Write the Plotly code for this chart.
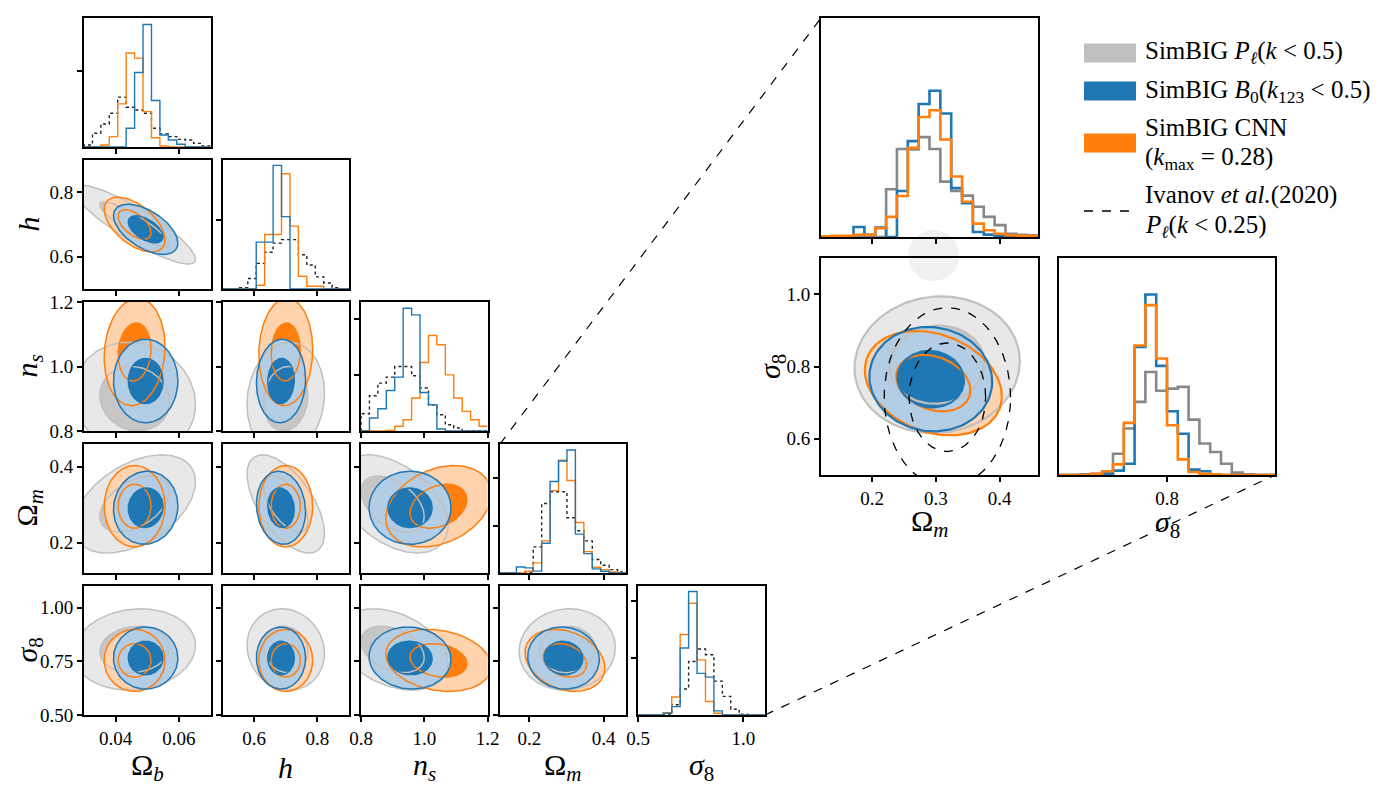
import numpy as np
import plotly.graph_objects as go

# page body has an 8px margin; figure sized to fit the 1395x794 window
PAGE_W, PAGE_H, BODY = 1395, 794, 8
W, H = PAGE_W - 2 * BODY, PAGE_H - 2 * BODY
FONT = "Liberation Serif"


def XP(px):
    return (px - BODY) / W


def YP(py):
    return 1 - (py - BODY) / H


# ---------------- data ----------------
param_labels = ["Ω<sub><i>b</i></sub>", "<i>h</i>", "<i>n<sub>s</sub></i>", "Ω<sub><i>m</i></sub>", "<i>σ</i><sub>8</sub>"]
param_ranges = [[0.03, 0.07], [0.5, 0.9], [0.8, 1.2], [0.12, 0.46], [0.5, 1.1]]
x_tickvals = [[0.04, 0.06], [0.6, 0.8], [0.8, 1.0, 1.2], [0.2, 0.4], [0.5, 1.0]]
x_ticktext = [["0.04", "0.06"], ["0.6", "0.8"], ["0.8", "1.0", "1.2"], ["0.2", "0.4"], ["0.5", "1.0"]]
y_tickvals = [[], [0.6, 0.8], [0.8, 1.0, 1.2], [0.2, 0.4], [0.5, 0.75, 1.0]]
y_ticktext = [[], ["0.6", "0.8"], ["0.8", "1.0", "1.2"], ["0.2", "0.4"], ["0.50", "0.75", "1.00"]]

# 1D posteriors (density), 15 bins across each parameter range
hist_density_top = [84.6, 9.36, 11.51, 13.6, 11.34]
hist_density_ticks = [[50], [5], [5, 10], [5, 10], [5, 10]]
hist_b0 = [
    [0, 0, 0, 0, 0, 12.3, 48.9, 80.3, 30.5, 7.9, 4.6, 1.8, 0, 0, 0],
    [0, 0, 0, 0, 3.4, 3.4, 8.97, 5.25, 0, 0, 0, 0, 0, 0, 0],
    [0, 1.16, 1.99, 3.62, 4.81, 10.95, 10.36, 3.44, 2.34, 0.18, 0, 0, 0, 0, 0],
    [0, 0, 0.64, 0.54, 0.2, 3.14, 9.64, 11.8, 12.96, 4.1, 2.04, 0.43, 0.18, 0, 0],
    [0, 0, 0, 0.15, 0.74, 5.89, 10.86, 3.66, 3.33, 0.36, 0, 0, 0, 0, 0],
]
hist_cnn = [
    [0, 0, 1.3, 6.8, 28.3, 61.6, 58.3, 23.2, 6.1, 0.7, 0, 0, 0, 0, 0],
    [0, 0, 0, 0, 0.27, 3.95, 3.95, 8.36, 4.56, 0.93, 0.2, 0.2, 0, 0, 0],
    [0, 0, 0, 0.05, 0.42, 1.0, 2.94, 6.11, 8.52, 7.69, 5.01, 2.94, 1.75, 1.0, 0.42],
    [0, 0, 0, 0.18, 1.07, 3.39, 8.68, 11.9, 9.75, 5.32, 2.25, 0.61, 0.36, 0.1, 0],
    [0, 0, 0, 0.2, 1.58, 7.08, 9.82, 4.85, 1.19, 0.15, 0, 0, 0, 0, 0],
]
hist_pk = [
    [1.3, 9.0, 15.1, 22.1, 32.7, 26.1, 24.3, 22.1, 12.3, 8.6, 6.8, 5.0, 4.6, 2.4, 0.7],
    [0, 0, 0.1, 0.76, 1.86, 2.67, 3.33, 3.58, 3.58, 2.48, 1.74, 0.88, 0.44, 0.1, 0],
    [1.54, 3.15, 4.27, 4.81, 5.76, 5.76, 4.93, 3.83, 2.34, 1.45, 0.56, 0.27, 0, 0, 0],
    [0, 0, 0, 0, 2.75, 7.32, 8.57, 8.57, 5.82, 4.46, 3.39, 1.43, 0.82, 0.36, 0.1],
    [0, 0, 0, 0, 0.9, 2.29, 4.7, 5.8, 5.3, 2.98, 1.64, 0.51, 0.06, 0, 0],
]

# zoomed 1D posteriors (normalised heights), 20 bins
inset_om_pk = [0, 0, 0, 0, 0, 0, 0.218, 0.402, 0.40, 0.456, 0.402, 0.253, 0.21, 0.189, 0.138, 0.092, 0.054, 0.015, 0.01, 0.008]
inset_om_b0 = [0, 0, 0, 0.046, 0.01, 0.043, 0.0, 0.21, 0.438, 0.607, 0.668, 0.564, 0.223, 0.154, 0.023, 0.011, 0.003, 0.003, 0, 0]
inset_om_cnn = [0.003, 0.005, 0.005, 0.01, 0.01, 0.04, 0.092, 0.187, 0.407, 0.548, 0.579, 0.445, 0.276, 0.161, 0.061, 0.031, 0.015, 0.008, 0.005, 0.005]
inset_s8_pk = [0, 0, 0.003, 0.006, 0.014, 0.098, 0.214, 0.337, 0.475, 0.388, 0.398, 0.406, 0.255, 0.145, 0.106, 0.052, 0.011, 0.003, 0, 0]
inset_s8_b0 = [0, 0, 0, 0, 0.006, 0.02, 0.052, 0.59, 0.832, 0.503, 0.294, 0.19, 0.025, 0.017, 0, 0, 0, 0, 0, 0]
inset_s8_cnn = [0, 0, 0, 0.006, 0.017, 0.049, 0.24, 0.597, 0.783, 0.537, 0.229, 0.072, 0.014, 0.006, 0.003, 0, 0, 0, 0, 0]

# 2D contour summaries: centre, inner-contour half width, correlations
pk_mean = [0.046, 0.700, 0.900, 0.302, 0.805]
pk_sig = [0.011, 0.070, 0.100, 0.074, 0.108]
b0_mean = [0.0495, 0.685, 0.955, 0.292, 0.765]
b0_sig = [0.0055, 0.042, 0.070, 0.052, 0.078]
cnn_mean = [0.046, 0.700, 1.045, 0.296, 0.754]
cnn_sig = [0.0052, 0.046, 0.090, 0.058, 0.078]
pk_corr = {(0, 1): -0.88, (0, 2): -0.1, (0, 3): 0.45, (0, 4): 0.1, (1, 2): 0.1,
           (1, 3): -0.6, (1, 4): -0.1, (2, 3): -0.45, (2, 4): -0.35, (3, 4): 0.05}
b0_corr = {(0, 1): -0.55, (0, 2): 0.0, (0, 3): 0.05, (0, 4): 0.0, (1, 2): 0.05,
           (1, 3): -0.1, (1, 4): 0.0, (2, 3): 0.0, (2, 4): -0.05, (3, 4): -0.05}
cnn_corr = {(0, 1): -0.55, (0, 2): 0.1, (0, 3): 0.0, (0, 4): 0.0, (1, 2): 0.05,
            (1, 3): 0.0, (1, 4): 0.0, (2, 3): 0.3, (2, 4): -0.2, (3, 4): -0.25}
outer_ratio = {"pk": 1.75, "b0": 1.85, "cnn": 1.85}
ivanov_mean = [0.318, 0.715]   # (Ωm, σ8)
ivanov_sig = [0.060, 0.150]
ivanov_ratio = 1.65

# ---------------- styling ----------------
BLUE, ORANGE = "#1f77b4", "#ff7f0e"
STY = {
    "pk": dict(light="#e8e8e8", dark="#c6c6c6", line="#c0c0c0"),
    "cnn": dict(light="#ffd3ae", dark=ORANGE, line=ORANGE),
    "b0": dict(light="#b3cde4", dark=BLUE, line=BLUE),
}
DATA = {"pk": (pk_mean, pk_sig, pk_corr), "cnn": (cnn_mean, cnn_sig, cnn_corr), "b0": (b0_mean, b0_sig, b0_corr)}

COL_X0, COL_STEP, PW = 84, 138.5, 126.5
ROW_Y0, ROW_STEP, PH = 18, 142, 129

layout = dict(template="none", width=W, height=H,
              margin=dict(l=0, r=0, t=0, b=0, pad=0, autoexpand=False),
              paper_bgcolor="white", plot_bgcolor="rgba(0,0,0,0)", showlegend=False,
              shapes=[], annotations=[])
traces = []
axn = [0]


def add_axes(x0, x1, y0, y1, xr, yr, xt, xtt, yt, ytt, xlabels, ylabels):
    axn[0] += 1
    n = axn[0]
    xs, ys = ("xaxis", "yaxis") if n == 1 else (f"xaxis{n}", f"yaxis{n}")
    xid, yid = ("x", "y") if n == 1 else (f"x{n}", f"y{n}")
    common = dict(showline=True, mirror=True, linecolor="black", linewidth=1.8, showgrid=False,
                  zeroline=False, automargin=False,
                  tickfont=dict(family=FONT, size=19, color="black"), fixedrange=True)

    def ticks(tv, tt, lab):
        if not tv:
            return dict(ticks="", showticklabels=False)
        d = dict(ticks="outside", ticklen=5, tickwidth=1.5, tickcolor="black", tickvals=tv,
                 showticklabels=lab)
        if lab:
            d["ticktext"] = tt
        return d

    layout[xs] = dict(domain=[XP(x0), XP(x1)], range=xr, anchor=yid, **ticks(xt, xtt, xlabels), **common)
    layout[ys] = dict(domain=[YP(y1), YP(y0)], range=yr, anchor=xid, **ticks(yt, ytt, ylabels), **common)
    return xid, yid


def step_trace(edges_lo, edges_hi, vals, xid, yid, color, width, dash="solid"):
    edges = np.linspace(edges_lo, edges_hi, len(vals) + 1)
    xs = np.concatenate([[edges[0]], edges])
    ys = np.concatenate([[0], vals, [vals[-1]]])
    return go.Scatter(x=xs, y=ys, xaxis=xid, yaxis=yid, mode="lines", hoverinfo="skip",
                      line=dict(color=color, width=width, shape="hv", dash=dash))


def ellipse(mx, my, sx, sy, rho, r, n=140):
    t = np.linspace(0, 2 * np.pi, n)
    u, v = np.cos(t), np.sin(t)
    return mx + r * sx * u, my + r * sy * (rho * u + np.sqrt(1 - rho ** 2) * v)


def contour_set(i, j, xid, yid, lw):
    """x parameter j, y parameter i"""
    fills, lines = [], []
    for key in ["pk", "cnn", "b0"]:
        mean, sig, corr = DATA[key]
        rho = corr[(min(i, j), max(i, j))]
        for lev, r in [("light", outer_ratio[key]), ("dark", 1.0)]:
            ex, ey = ellipse(mean[j], mean[i], sig[j], sig[i], rho, r)
            fills.append(go.Scatter(x=ex, y=ey, xaxis=xid, yaxis=yid, mode="lines", fill="toself",
                                    fillcolor=STY[key][lev], line=dict(width=0), hoverinfo="skip"))
            lines.append(go.Scatter(x=ex, y=ey, xaxis=xid, yaxis=yid, mode="lines",
                                    line=dict(color=STY[key]["line"], width=lw), hoverinfo="skip"))
    return fills + lines


def label(text, px, py, size=30, angle=0, xanchor="center"):
    layout["annotations"].append(dict(text=text, xref="paper", yref="paper", x=XP(px), y=YP(py),
                                      xanchor=xanchor, yanchor="middle", textangle=angle,
                                      showarrow=False, font=dict(family=FONT, size=size, color="black")))


# ---------------- main corner ----------------
for i in range(5):
    for j in range(i + 1):
        x0 = COL_X0 + j * COL_STEP
        y0 = ROW_Y0 + i * ROW_STEP
        xlab = i == 4
        if i == j:
            xid, yid = add_axes(x0, x0 + PW, y0, y0 + PH, param_ranges[j], [0, hist_density_top[i]],
                                x_tickvals[j], x_ticktext[j], hist_density_ticks[i], None, xlab, False)
            lo, hi = param_ranges[j]
            traces.append(step_trace(lo, hi, hist_pk[i], xid, yid, "#222222", 1.4, "dot"))
            traces.append(step_trace(lo, hi, hist_cnn[i], xid, yid, ORANGE, 1.4))
            traces.append(step_trace(lo, hi, hist_b0[i], xid, yid, BLUE, 1.4))
        else:
            xid, yid = add_axes(x0, x0 + PW, y0, y0 + PH, param_ranges[j], param_ranges[i],
                                x_tickvals[j], x_ticktext[j], y_tickvals[i], y_ticktext[i], xlab, j == 0)
            traces.extend(contour_set(i, j, xid, yid, 1.5))

# axis titles of the corner
for j in range(5):
    label(param_labels[j], COL_X0 + j * COL_STEP + PW / 2, 767)
for i in range(1, 5):
    label(param_labels[i], 28, ROW_Y0 + i * ROW_STEP + PH / 2, angle=-90)

# ---------------- zoomed inset ----------------
IX0, IX1 = 821, 1038
SX0, SX1 = 1059, 1275
xid, yid = add_axes(IX0, IX1, 18, 237, param_ranges[3], [0, 1.0], [0.2, 0.3, 0.4], None, [], None, False, False)
for vals, col in [(inset_om_pk, "#888888"), (inset_om_b0, BLUE), (inset_om_cnn, ORANGE)]:
    traces.append(step_trace(param_ranges[3][0], param_ranges[3][1], vals, xid, yid, col, 2.6))

xid, yid = add_axes(IX0, IX1, 258, 475, param_ranges[3], param_ranges[4], [0.2, 0.3, 0.4],
                    ["0.2", "0.3", "0.4"], [0.6, 0.8, 1.0], ["0.6", "0.8", "1.0"], True, True)
traces.extend(contour_set(4, 3, xid, yid, 2.2))
for r in [1.0, ivanov_ratio]:
    ex, ey = ellipse(ivanov_mean[0], ivanov_mean[1], ivanov_sig[0], ivanov_sig[1], 0.0, r)
    traces.append(go.Scatter(x=ex, y=ey, xaxis=xid, yaxis=yid, mode="lines", hoverinfo="skip",
                             line=dict(color="black", width=1.3, dash="dash")))

xid, yid = add_axes(SX0, SX1, 258, 475, param_ranges[4], [0, 1.0], [0.8], ["0.8"], [], None, True, False)
for vals, col in [(inset_s8_pk, "#888888"), (inset_s8_b0, BLUE), (inset_s8_cnn, ORANGE)]:
    traces.append(step_trace(param_ranges[4][0], param_ranges[4][1], vals, xid, yid, col, 2.6))

label(param_labels[4], 772, 366, angle=-90)
label(param_labels[3], 929, 523)
label(param_labels[4], 1167, 524)

# zoom connector lines and faint blob
layout["shapes"].append(dict(type="line", xref="paper", yref="paper", x0=XP(500), y0=YP(444),
                             x1=XP(IX0), y1=YP(18), line=dict(color="black", width=1.2, dash="dash")))
layout["shapes"].append(dict(type="line", xref="paper", yref="paper", x0=XP(765), y0=YP(715),
                             x1=XP(SX1), y1=YP(475), line=dict(color="black", width=1.2, dash="dash")))
layout["shapes"].append(dict(type="circle", xref="paper", yref="paper", x0=XP(908), x1=XP(959),
                             y0=YP(281), y1=YP(230), fillcolor="#f0f1f3", line=dict(width=0), layer="below"))

# ---------------- legend ----------------
legend_items = [
    ("patch", "#bfbfbf", ["SimBIG <i>P</i><sub><i>ℓ</i></sub>(<i>k</i> &lt; 0.5)"]),
    ("patch", BLUE, ["SimBIG <i>B</i><sub>0</sub>(<i>k</i><sub>123</sub> &lt; 0.5)"]),
    ("patch", ORANGE, ["SimBIG CNN", "(<i>k</i><sub>max</sub> = 0.28)"]),
    ("dash", "black", ["Ivanov <i>et al.</i>(2020)", "<i>P</i><sub><i>ℓ</i></sub>(<i>k</i> &lt; 0.25)"]),
]
legend_rows = [53, 91, 143, 211]
for (kind, col, lines), yc in zip(legend_items, legend_rows):
    if kind == "patch":
        layout["shapes"].append(dict(type="rect", xref="paper", yref="paper", x0=XP(1084), x1=XP(1136),
                                     y0=YP(yc + 9.5), y1=YP(yc - 9.5), fillcolor=col, line=dict(width=0)))
    else:
        layout["shapes"].append(dict(type="line", xref="paper", yref="paper", x0=XP(1084), x1=XP(1136),
                                     y0=YP(yc), y1=YP(yc), line=dict(color=col, width=1.4, dash="dash")))
    n = len(lines)
    for k, t in enumerate(lines):
        label(t, 1143, yc + (k - (n - 1) / 2) * 31, size=25, xanchor="left")

fig = go.Figure(data=traces, layout=layout)
fig.write_html("out.html")
